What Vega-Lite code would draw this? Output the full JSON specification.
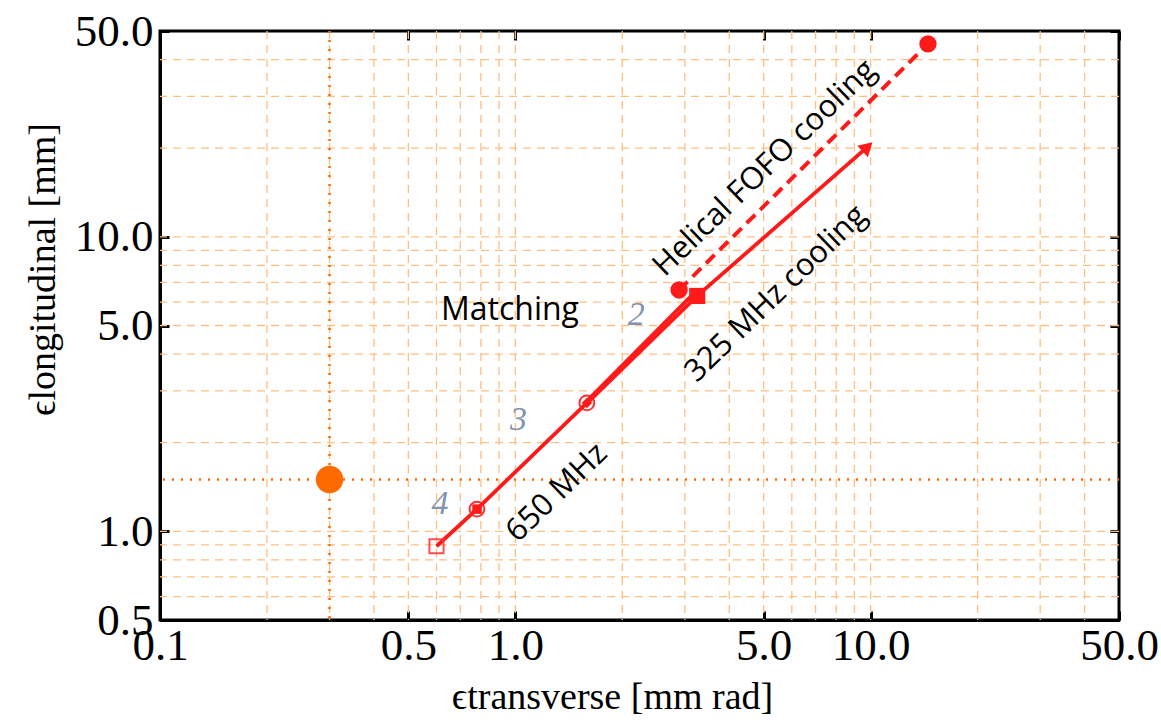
{
  "$schema": "https://vega.github.io/schema/vega-lite/v6.json",
  "width": 959,
  "height": 589,
  "autosize": "none",
  "padding": {"left": 160, "top": 31, "right": 42, "bottom": 105},
  "background": "white",
  "config": {
    "view": {"stroke": "black", "strokeWidth": 3},
    "axis": {
      "grid": false,
      "domainColor": "black",
      "domainWidth": 3,
      "tickColor": "black",
      "tickWidth": 3,
      "tickSize": -9,
      "labelFont": "Liberation Serif",
      "labelFontSize": 45,
      "labelColor": "black",
      "titleFont": "Liberation Serif",
      "titleFontSize": 38,
      "titleFontWeight": "normal",
      "titleColor": "black",
      "labelOverlap": false,
      "labelFlush": false
    }
  },
  "datasets": {
    "gridx": [
      {"v": 0.2}, {"v": 0.3}, {"v": 0.4}, {"v": 0.5}, {"v": 0.6}, {"v": 0.7}, {"v": 0.8}, {"v": 0.9},
      {"v": 1}, {"v": 2}, {"v": 3}, {"v": 4}, {"v": 5}, {"v": 6}, {"v": 7}, {"v": 8}, {"v": 9},
      {"v": 10}, {"v": 20}, {"v": 30}, {"v": 40}
    ],
    "gridy": [
      {"v": 0.6}, {"v": 0.7}, {"v": 0.8}, {"v": 0.9},
      {"v": 1}, {"v": 2}, {"v": 3}, {"v": 4}, {"v": 5}, {"v": 6}, {"v": 7}, {"v": 8}, {"v": 9},
      {"v": 10}, {"v": 20}, {"v": 30}, {"v": 40}
    ],
    "target": [{"x": 0.3, "y": 1.5}],
    "lines": [
      {"series": "Helical FOFO cooling", "order": 1, "x": 2.89, "y": 6.6},
      {"series": "Helical FOFO cooling", "order": 2, "x": 14.5, "y": 45.2},
      {"series": "325 MHz cooling", "order": 1, "x": 3.25, "y": 6.3},
      {"series": "325 MHz cooling", "order": 2, "x": 9.8, "y": 20.2},
      {"series": "Matching a", "order": 1, "x": 1.59, "y": 2.72},
      {"series": "Matching a", "order": 2, "x": 3.25, "y": 6.3},
      {"series": "Matching b", "order": 1, "x": 1.6, "y": 2.79},
      {"series": "Matching b", "order": 2, "x": 3.16, "y": 6.38},
      {"series": "650 MHz", "order": 1, "x": 0.6, "y": 0.89},
      {"series": "650 MHz", "order": 2, "x": 0.78, "y": 1.19},
      {"series": "650 MHz", "order": 3, "x": 1.59, "y": 2.73}
    ],
    "markers": [
      {"marker": "dot", "x": 2.89, "y": 6.6},
      {"marker": "dot", "x": 14.5, "y": 45.2},
      {"marker": "square", "x": 3.25, "y": 6.3},
      {"marker": "arrow", "x": 9.8, "y": 20.2},
      {"marker": "ring", "x": 1.59, "y": 2.73},
      {"marker": "ring", "x": 0.78, "y": 1.19},
      {"marker": "diamond", "x": 1.59, "y": 2.73},
      {"marker": "smallsquare", "x": 0.78, "y": 1.19},
      {"marker": "opensquare", "x": 0.6, "y": 0.89}
    ],
    "rotated": [
      {"label": "Helical FOFO cooling", "x": 5.04, "y": 17.1},
      {"label": "325 MHz cooling", "x": 5.42, "y": 6.4},
      {"label": "650 MHz", "x": 1.31, "y": 1.35}
    ],
    "plain": [{"label": "Matching", "x": 0.966, "y": 5.65}],
    "stages": [
      {"label": "2", "x": 2.19, "y": 5.43},
      {"label": "3", "x": 1.02, "y": 2.39},
      {"label": "4", "x": 0.614, "y": 1.24}
    ]
  },
  "layer": [
    {
      "data": {"name": "gridx"},
      "mark": {"type": "rule", "color": "#ffbf80", "strokeWidth": 1.3, "strokeDash": [8, 6]},
      "encoding": {
        "x": {"field": "v", "type": "quantitative", "scale": {"type": "log", "domain": [0.1, 50]},
          "axis": {"orient": "bottom", "values": [0.1, 0.5, 1, 5, 10, 50], "format": ".1f",
            "labelPadding": 12, "title": "ϵtransverse [mm rad]", "titlePadding": 10, "titleX": 452}}
      }
    },
    {
      "data": {"name": "gridy"},
      "mark": {"type": "rule", "color": "#ffbf80", "strokeWidth": 1.3, "strokeDash": [8, 6]},
      "encoding": {
        "y": {"field": "v", "type": "quantitative", "scale": {"type": "log", "domain": [0.5, 50]},
          "axis": {"orient": "left", "values": [0.5, 1, 5, 10, 50], "format": ".1f",
            "labelPadding": 16, "title": "ϵlongitudinal [mm]", "titlePadding": 12, "titleY": 238}}
      }
    },
    {
      "data": {"name": "target"},
      "mark": {"type": "rule", "color": "#ff6a00", "strokeWidth": 2.5, "strokeDash": [2, 7]},
      "encoding": {
        "x": {"field": "x", "type": "quantitative", "scale": {"type": "log", "domain": [0.1, 50]},
          "axis": {"orient": "top", "values": [0.1, 0.5, 1, 5, 10, 50], "labels": false, "title": null, "domain": false}}
      }
    },
    {
      "data": {"name": "target"},
      "mark": {"type": "rule", "color": "#ff6a00", "strokeWidth": 2.5, "strokeDash": [2, 7]},
      "encoding": {
        "y": {"field": "y", "type": "quantitative", "scale": {"type": "log", "domain": [0.5, 50]},
          "axis": {"orient": "right", "values": [0.5, 1, 5, 10, 50], "labels": false, "title": null, "domain": false}}
      }
    },
    {
      "data": {"name": "target"},
      "mark": {"type": "point", "filled": true, "shape": "circle", "size": 750, "color": "#ff6a00", "opacity": 1},
      "encoding": {
        "x": {"field": "x", "type": "quantitative", "scale": {"type": "log", "domain": [0.1, 50]}, "axis": null},
        "y": {"field": "y", "type": "quantitative", "scale": {"type": "log", "domain": [0.5, 50]}, "axis": null}
      }
    },
    {
      "data": {"name": "lines"},
      "transform": [{"filter": "datum.series === 'Helical FOFO cooling'"}],
      "mark": {"type": "line", "color": "#ff1a1a", "strokeWidth": 4, "strokeDash": [12, 7]},
      "encoding": {
        "x": {"field": "x", "type": "quantitative", "scale": {"type": "log", "domain": [0.1, 50]}, "axis": null},
        "y": {"field": "y", "type": "quantitative", "scale": {"type": "log", "domain": [0.5, 50]}, "axis": null},
        "detail": {"field": "series"},
        "order": {"field": "order"}
      }
    },
    {
      "data": {"name": "lines"},
      "transform": [{"filter": "datum.series !== 'Helical FOFO cooling'"}],
      "mark": {"type": "line", "color": "#ff1a1a", "strokeWidth": 3.8},
      "encoding": {
        "x": {"field": "x", "type": "quantitative", "scale": {"type": "log", "domain": [0.1, 50]}, "axis": null},
        "y": {"field": "y", "type": "quantitative", "scale": {"type": "log", "domain": [0.5, 50]}, "axis": null},
        "detail": {"field": "series"},
        "order": {"field": "order"}
      }
    },
    {
      "data": {"name": "markers"},
      "transform": [{"filter": "datum.marker === 'dot'"}],
      "mark": {"type": "point", "filled": true, "shape": "circle", "size": 300, "color": "#ff1a1a", "opacity": 1},
      "encoding": {
        "x": {"field": "x", "type": "quantitative", "scale": {"type": "log", "domain": [0.1, 50]}, "axis": null},
        "y": {"field": "y", "type": "quantitative", "scale": {"type": "log", "domain": [0.5, 50]}, "axis": null}
      }
    },
    {
      "data": {"name": "markers"},
      "transform": [{"filter": "datum.marker === 'square'"}],
      "mark": {"type": "point", "filled": true, "shape": "square", "size": 260, "color": "#ff1a1a", "opacity": 1},
      "encoding": {
        "x": {"field": "x", "type": "quantitative", "scale": {"type": "log", "domain": [0.1, 50]}, "axis": null},
        "y": {"field": "y", "type": "quantitative", "scale": {"type": "log", "domain": [0.5, 50]}, "axis": null}
      }
    },
    {
      "data": {"name": "markers"},
      "transform": [{"filter": "datum.marker === 'arrow'"}],
      "mark": {"type": "point", "filled": true, "shape": "triangle-right", "size": 240, "angle": -43, "color": "#ff1a1a", "opacity": 1},
      "encoding": {
        "x": {"field": "x", "type": "quantitative", "scale": {"type": "log", "domain": [0.1, 50]}, "axis": null},
        "y": {"field": "y", "type": "quantitative", "scale": {"type": "log", "domain": [0.5, 50]}, "axis": null}
      }
    },
    {
      "data": {"name": "markers"},
      "transform": [{"filter": "datum.marker === 'ring'"}],
      "mark": {"type": "point", "filled": false, "shape": "circle", "size": 220, "strokeWidth": 2, "color": "#ff1a1a", "opacity": 0.9},
      "encoding": {
        "x": {"field": "x", "type": "quantitative", "scale": {"type": "log", "domain": [0.1, 50]}, "axis": null},
        "y": {"field": "y", "type": "quantitative", "scale": {"type": "log", "domain": [0.5, 50]}, "axis": null}
      }
    },
    {
      "data": {"name": "markers"},
      "transform": [{"filter": "datum.marker === 'diamond'"}],
      "mark": {"type": "point", "filled": true, "shape": "diamond", "size": 110, "color": "#ff1a1a", "opacity": 1},
      "encoding": {
        "x": {"field": "x", "type": "quantitative", "scale": {"type": "log", "domain": [0.1, 50]}, "axis": null},
        "y": {"field": "y", "type": "quantitative", "scale": {"type": "log", "domain": [0.5, 50]}, "axis": null}
      }
    },
    {
      "data": {"name": "markers"},
      "transform": [{"filter": "datum.marker === 'smallsquare'"}],
      "mark": {"type": "point", "filled": true, "shape": "square", "size": 90, "color": "#ff1a1a", "opacity": 1},
      "encoding": {
        "x": {"field": "x", "type": "quantitative", "scale": {"type": "log", "domain": [0.1, 50]}, "axis": null},
        "y": {"field": "y", "type": "quantitative", "scale": {"type": "log", "domain": [0.5, 50]}, "axis": null}
      }
    },
    {
      "data": {"name": "markers"},
      "transform": [{"filter": "datum.marker === 'opensquare'"}],
      "mark": {"type": "point", "filled": false, "shape": "square", "size": 200, "strokeWidth": 2, "color": "#ff3030", "opacity": 0.85},
      "encoding": {
        "x": {"field": "x", "type": "quantitative", "scale": {"type": "log", "domain": [0.1, 50]}, "axis": null},
        "y": {"field": "y", "type": "quantitative", "scale": {"type": "log", "domain": [0.5, 50]}, "axis": null}
      }
    },
    {
      "data": {"name": "rotated"},
      "mark": {"type": "text", "font": "Open Sans", "fontSize": 31, "angle": -44, "color": "black", "align": "center", "baseline": "middle"},
      "encoding": {
        "x": {"field": "x", "type": "quantitative", "scale": {"type": "log", "domain": [0.1, 50]}, "axis": null},
        "y": {"field": "y", "type": "quantitative", "scale": {"type": "log", "domain": [0.5, 50]}, "axis": null},
        "text": {"field": "label"}
      }
    },
    {
      "data": {"name": "plain"},
      "mark": {"type": "text", "font": "Open Sans", "fontSize": 32, "color": "black", "align": "center", "baseline": "middle"},
      "encoding": {
        "x": {"field": "x", "type": "quantitative", "scale": {"type": "log", "domain": [0.1, 50]}, "axis": null},
        "y": {"field": "y", "type": "quantitative", "scale": {"type": "log", "domain": [0.5, 50]}, "axis": null},
        "text": {"field": "label"}
      }
    },
    {
      "data": {"name": "stages"},
      "mark": {"type": "text", "font": "Liberation Serif", "fontSize": 34, "fontStyle": "italic", "color": "#8393ad", "align": "center", "baseline": "middle"},
      "encoding": {
        "x": {"field": "x", "type": "quantitative", "scale": {"type": "log", "domain": [0.1, 50]}, "axis": null},
        "y": {"field": "y", "type": "quantitative", "scale": {"type": "log", "domain": [0.5, 50]}, "axis": null},
        "text": {"field": "label"}
      }
    }
  ],
  "resolve": {"axis": {"x": "independent", "y": "independent"}}
}
